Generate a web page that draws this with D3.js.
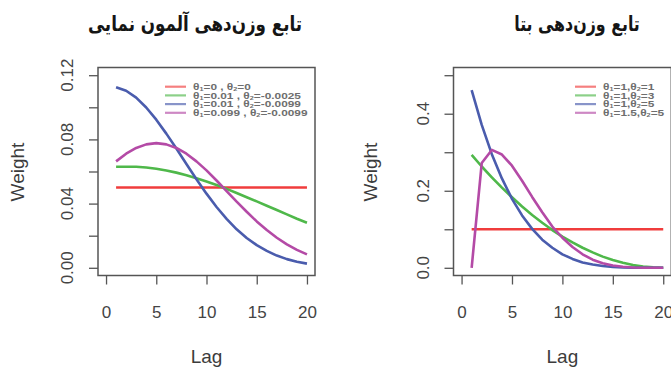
<!DOCTYPE html>
<html lang="fa">
<head>
<meta charset="UTF-8">
<title>Almon and Beta lag weights</title>
<script src="https://d3js.org/d3.v7.min.js"></script>
<style>
  body { margin: 0; background: #fff; }
  svg { display: block; font-family: "Liberation Sans", Arial, sans-serif; }
  .title { font-family: "DejaVu Sans", sans-serif; font-weight: bold; font-size: 18px; fill: #151515; }
  .tick text { font-size: 17px; fill: #444; }
  .tick line { stroke: #555; stroke-width: 1.3; }
  .axis-label { font-size: 19px; fill: #3c3c3c; }
  .box { fill: none; stroke: #555; stroke-width: 1.5; }
  .curve { fill: none; stroke-width: 2.6; stroke-linejoin: round; }
  .legend text { font-size: 9px; fill: #6e6e6e; font-weight: bold; }
</style>
</head>
<body>
<svg width="671" height="368"></svg>
<script>
const lags = [1, 2, 3, 4, 5, 6, 7, 8, 9, 10, 11, 12, 13, 14, 15, 16, 17, 18, 19, 20];
const colors = ["#f03c3c", "#4fb84a", "#4a5cad", "#b44aa6"];

// left panel: exponential Almon weights
const almonTitle = "تابع وزن‌دهی آلمون نمایی";
const almonYTicks = [0, 0.02, 0.04, 0.06, 0.08, 0.10, 0.12];
const almonYLabels = [0, 0.04, 0.08, 0.12];
const almonLegend = [["0", "0"], ["0.01", "-0.0025"], ["0.01", "-0.0099"], ["0.099", "-0.0099"]];
const almonRed = [0.05, 0.05, 0.05, 0.05, 0.05, 0.05, 0.05, 0.05, 0.05, 0.05,
                  0.05, 0.05, 0.05, 0.05, 0.05, 0.05, 0.05, 0.05, 0.05, 0.05];
const almonGreen = [0.063, 0.063, 0.063, 0.0625, 0.0617, 0.0606, 0.0593, 0.0577, 0.0558, 0.0538,
                    0.0516, 0.0492, 0.0466, 0.044, 0.0414, 0.0387, 0.036, 0.0333, 0.0306, 0.0281];
const almonBlue = [0.1125, 0.1103, 0.106, 0.0999, 0.0923, 0.0836, 0.0743, 0.0647, 0.0552, 0.0462,
                   0.0379, 0.0305, 0.024, 0.0186, 0.0141, 0.0105, 0.0076, 0.0054, 0.0038, 0.0026];
const almonPurple = [0.0663, 0.0711, 0.0747, 0.0769, 0.0777, 0.0769, 0.0747, 0.0711, 0.0663, 0.0607,
                     0.0544, 0.0478, 0.0412, 0.0349, 0.0289, 0.0235, 0.0187, 0.0146, 0.0112, 0.0084];

// right panel: beta weights
const betaTitle = "تابع وزن‌دهی بتا";
const betaYTicks = [0, 0.1, 0.2, 0.3, 0.4, 0.5];
const betaYLabels = [0, 0.2, 0.4];
const betaLegend = [["1", "1"], ["1", "3"], ["1", "5"], ["1.5", "5"]];
const betaRed = [0.1, 0.1, 0.1, 0.1, 0.1, 0.1, 0.1, 0.1, 0.1, 0.1,
                 0.1, 0.1, 0.1, 0.1, 0.1, 0.1, 0.1, 0.1, 0.1, 0.1];
const betaGreen = [0.293, 0.263, 0.235, 0.208, 0.183, 0.159, 0.137, 0.117, 0.098, 0.081,
                   0.066, 0.052, 0.040, 0.029, 0.020, 0.013, 0.007, 0.003, 0.001, 0];
const betaBlue = [0.461, 0.371, 0.295, 0.232, 0.179, 0.136, 0.101, 0.073, 0.052, 0.035,
                  0.023, 0.014, 0.0085, 0.0046, 0.0022, 0.0009, 0.0003, 0.0001, 0, 0];
const betaPurple = [0, 0.272, 0.306, 0.294, 0.265, 0.226, 0.184, 0.144, 0.107, 0.078,
                    0.054, 0.035, 0.021, 0.012, 0.006, 0.0026, 0.0008, 0.0002, 0, 0];

const xTicks = [0, 5, 10, 15, 20];

const svg = d3.select("svg");
svg.append("rect").attr("width", 671).attr("height", 368).attr("fill", "#fff");

function legendLabel(text, t1, t2, sep) {
    text.append("tspan").text("θ");
    text.append("tspan").attr("font-size", 5.5).attr("dy", 1).text("1");
    text.append("tspan").attr("dy", -1).text("=" + t1 + sep + "θ");
    text.append("tspan").attr("font-size", 5.5).attr("dy", 1).text("2");
    text.append("tspan").attr("dy", -1).text("=" + t2);
}

function panel(cfg) {
    const g = svg.append("g");
    const ymax = cfg.yTicks[cfg.yTicks.length - 1];
    const x = d3.scaleLinear().domain([-0.8, 20.8]).range([cfg.left, cfg.right]);
    const y = d3.scaleLinear().domain([-0.04 * ymax, 1.04 * ymax]).range([275.5, 67.5]);

    // title (squeezed a bit, taller like the original typeface)
    g.append("text").attr("class", "title")
        .attr("transform", `translate(${cfg.titleX},31) scale(${cfg.titleSx},1.15)`)
        .attr("text-anchor", "middle")
        .text(cfg.title);

    // curves
    const line = d3.line().x((d, i) => x(lags[i])).y(d => y(d));
    cfg.series.forEach((s, i) => {
        g.append("path").attr("class", "curve")
            .attr("stroke", colors[i])
            .attr("d", line(s));
    });

    // box
    g.append("rect").attr("class", "box")
        .attr("x", cfg.left).attr("y", 67.5)
        .attr("width", cfg.right - cfg.left).attr("height", 208);

    // y axis
    const yAxis = g.append("g")
        .attr("transform", `translate(${cfg.left},0)`)
        .call(d3.axisLeft(y).tickValues(cfg.yTicks).tickSize(9).tickFormat(""));
    yAxis.select(".domain").remove();
    g.selectAll(null).data(cfg.yLabels).join("text")
        .attr("class", "tick-label")
        .attr("transform", d => `translate(${cfg.left - 25},${y(d)}) rotate(-90)`)
        .attr("text-anchor", "middle")
        .attr("font-size", 17).attr("fill", "#444")
        .text(d => d3.format(cfg.yFormat)(d));

    // x axis
    const xAxis = g.append("g")
        .attr("transform", "translate(0,275.5)")
        .call(d3.axisBottom(x).tickValues(xTicks).tickSize(9).tickPadding(21).tickFormat(d3.format("d")));
    xAxis.select(".domain").remove();
    xAxis.selectAll("text").attr("font-family", null).attr("font-size", null);

    // axis labels
    g.append("text").attr("class", "axis-label")
        .attr("x", (cfg.left + cfg.right) / 2).attr("y", 363)
        .attr("text-anchor", "middle").text("Lag");
    g.append("text").attr("class", "axis-label")
        .attr("transform", `translate(${cfg.weightX},172) rotate(-90)`)
        .attr("text-anchor", "middle").text("Weight");

    // legend
    const lg = g.append("g").attr("class", "legend");
    cfg.legend.forEach((p, i) => {
        const ry = 86.7 + i * 8.7;
        lg.append("line")
            .attr("x1", cfg.legX).attr("x2", cfg.legX + 21)
            .attr("y1", ry).attr("y2", ry)
            .attr("stroke", colors[i]).attr("stroke-width", 2.2).attr("opacity", 0.65);
        const t = lg.append("text")
            .attr("transform", `translate(${cfg.legX + 28},${ry + 3.2}) scale(1.32,1)`);
        legendLabel(t, p[0], p[1], cfg.sep);
    });
}

panel({
    left: 98, right: 315, titleX: 195, titleSx: 0.93, weightX: 24,
    title: almonTitle, yTicks: almonYTicks, yLabels: almonYLabels, yFormat: ".2f",
    series: [almonRed, almonGreen, almonBlue, almonPurple],
    legend: almonLegend, legX: 165, sep: " , "
});

panel({
    left: 453.5, right: 671.3, titleX: 577, titleSx: 0.88, weightX: 377,
    title: betaTitle, yTicks: betaYTicks, yLabels: betaYLabels, yFormat: ".1f",
    series: [betaRed, betaGreen, betaBlue, betaPurple],
    legend: betaLegend, legX: 575, sep: ","
});
</script>
</body>
</html>
